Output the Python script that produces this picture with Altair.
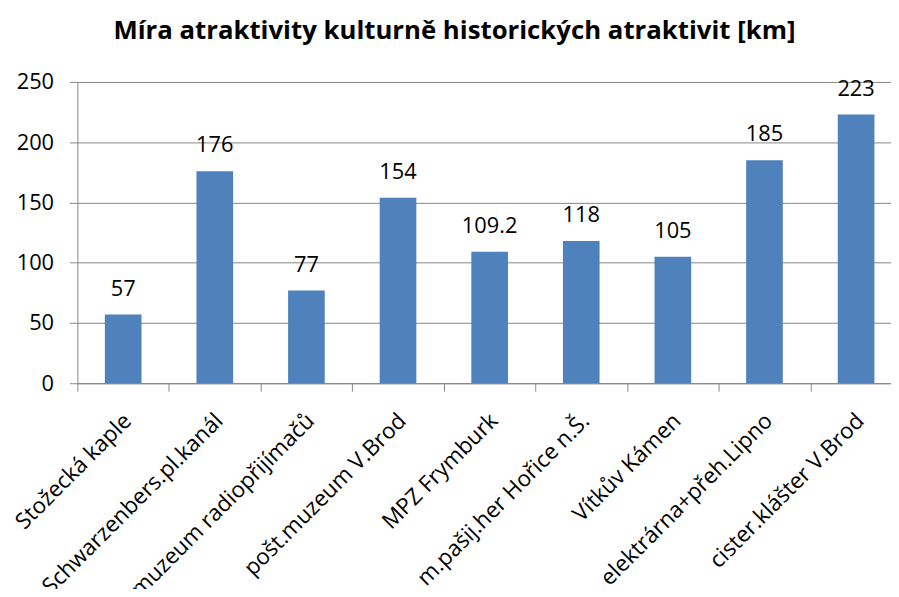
import altair as alt
import pandas as pd

categories = ["Stožecká kaple", "Schwarzenbers.pl.kanál", "muzeum radiopřijímačů",
              "pošt.muzeum V.Brod", "MPZ Frymburk", "m.pašij.her Hořice n.Š.",
              "Vítkův Kámen", "elektrárna+přeh.Lipno", "cister.klášter V.Brod"]
values = [57, 176, 77, 154, 109.2, 118, 105, 185, 223]
labels = ["57", "176", "77", "154", "109.2", "118", "105", "185", "223"]

df = pd.DataFrame({"cat": categories, "val": values, "lab": labels})

FONT = "Open Sans"

x = alt.X("cat:N", sort=categories, title=None,
          scale=alt.Scale(range=[0, 832], paddingInner=0, paddingOuter=0),
          axis=alt.Axis(labelAngle=-45, labelAlign="right", labelBaseline="middle",
                        labelFontSize=22.5, labelFont=FONT, labelColor="black",
                        tickBand="extent", tickSize=8, tickColor="#868686",
                        domainColor="#868686", labelPadding=26, labelOffset=4,
                        grid=False, labelOverlap=False, labelLimit=0))
y = alt.Y("val:Q", title=None,
          scale=alt.Scale(domain=[0, 250], nice=False),
          axis=alt.Axis(values=[0, 50, 100, 150, 200, 250], tickSize=8,
                        tickColor="#868686", domainColor="#868686",
                        gridColor="#868686", labelFontSize=22, labelFont=FONT,
                        labelColor="black", labelPadding=16))

bars = alt.Chart(df).mark_bar(color="#4F81BD", width={"band": 0.4}).encode(x=x, y=y)
text = alt.Chart(df).mark_text(baseline="alphabetic", dy=-19, fontSize=22, font=FONT,
                               color="black").encode(x=alt.X("cat:N", sort=categories),
                                                     y="val:Q", text="lab:N")

chart = (bars + text).properties(
    width=821, height=304,
    title=alt.TitleParams("Míra atraktivity kulturně historických atraktivit [km]",
                          font=FONT, fontSize=26, fontWeight="bold", color="black",
                          anchor="middle", dx=-30, offset=27),
    autosize=alt.AutoSizeParams(type="none"),
    padding={"left": 70, "top": 72, "right": 0, "bottom": 205},
).configure_view(stroke=None)

chart.save("out.html", embed_options={"renderer": "svg", "actions": False})
